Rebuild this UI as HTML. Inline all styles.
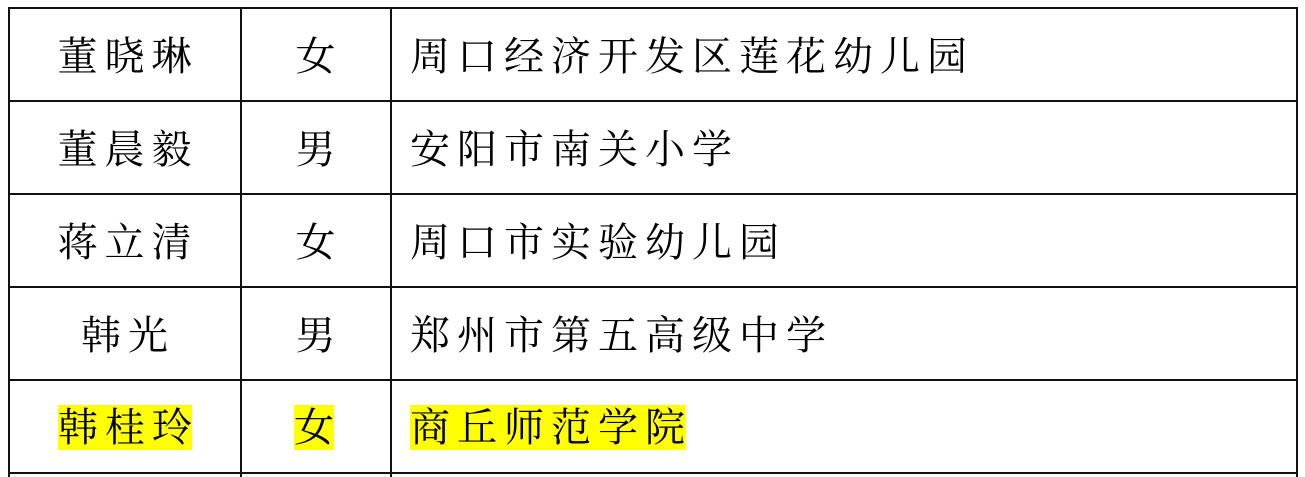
<!DOCTYPE html>
<html><head><meta charset="utf-8"><style>
body{margin:0;width:1305px;height:477px;background:#fff;overflow:hidden;position:relative;font-family:"Liberation Serif","Noto Serif CJK SC",serif;}
.h{position:absolute;left:8px;width:1289px;height:2px;background:#111;}
.v{position:absolute;top:7px;width:2px;height:470px;background:#111;}
.t{position:absolute;height:46px;line-height:46px;font-size:40px;color:#000;white-space:nowrap;letter-spacing:7px;}
.c{transform:translateX(-50%);}
.y{background:#ffff00;}
.l{letter-spacing:0;}
</style></head><body>
<div class="h" style="top:7px"></div>
<div class="h" style="top:100px"></div>
<div class="h" style="top:193px"></div>
<div class="h" style="top:286px"></div>
<div class="h" style="top:379px"></div>
<div class="h" style="top:472px"></div>
<div class="v" style="left:8px"></div>
<div class="v" style="left:240px"></div>
<div class="v" style="left:390px"></div>
<div class="v" style="left:1296px"></div>

<div class="t c" style="left:128px;top:34px">董晓琳</div>
<div class="t c" style="left:319px;top:34px">女</div>
<div class="t" style="left:410px;top:34px">周口经济开发区莲花幼儿园</div>

<div class="t c" style="left:128px;top:127px">董晨毅</div>
<div class="t c" style="left:319px;top:127px">男</div>
<div class="t" style="left:410px;top:127px">安阳市南关小学</div>

<div class="t c" style="left:128px;top:220px">蒋立清</div>
<div class="t c" style="left:319px;top:220px">女</div>
<div class="t" style="left:410px;top:220px">周口市实验幼儿园</div>

<div class="t c" style="left:128px;top:313px">韩光</div>
<div class="t c" style="left:319px;top:313px">男</div>
<div class="t" style="left:410px;top:313px">郑州市第五高级中学</div>

<div class="t c" style="left:125px;top:405px"><span class="y">韩桂<span class="l">玲</span></span></div>
<div class="t c" style="left:314px;top:405px"><span class="y"><span class="l">女</span></span></div>
<div class="t" style="left:410px;top:405px"><span class="y">商丘师范学<span class="l">院</span></span></div>
</body></html>
